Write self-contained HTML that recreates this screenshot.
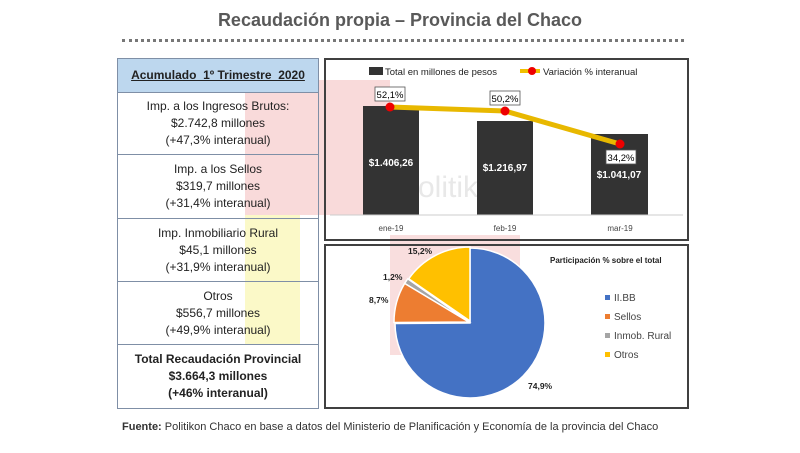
<!DOCTYPE html>
<html><head><meta charset="utf-8"><style>
body{margin:0;width:800px;height:453px;background:#fff;position:relative;overflow:hidden;font-family:"Liberation Sans",sans-serif}
.t{position:absolute;left:0;width:800px;top:10px;text-align:center;font-size:18px;font-weight:bold;color:#595959}
.dots{position:absolute;left:122px;top:39px;width:562px;border-top:3px dotted #777}
.wm{position:absolute}
table{position:absolute;left:117px;top:58px;width:202px;border-collapse:collapse;font-size:12px;color:#222}
td{border:1px solid #7f8fa6;text-align:center;line-height:17px;padding:0;background:transparent}
.box{position:absolute;border:2px solid #404040;box-sizing:border-box}
.foot{position:absolute;left:122px;top:421px;font-size:11px;color:#333}
</style></head><body>
<div class="t">Recaudación propia – Provincia del Chaco</div>
<div class="dots"></div>
<div class="wm" style="left:245px;top:80px;width:145px;height:135px;background:#f9dada"></div>
<div class="wm" style="left:245px;top:215px;width:55px;height:130px;background:#fbf9c8"></div>
<div class="wm" style="left:390px;top:235px;width:130px;height:120px;background:#f9dede"></div>
<table>
<tr style="height:34px"><td style="background:#bdd7ee;font-weight:bold;text-decoration:underline;font-size:12px">Acumulado&nbsp; 1º Trimestre&nbsp; 2020</td></tr>
<tr style="height:62px"><td>Imp. a los Ingresos Brutos:<br>$2.742,8 millones<br>(+47,3% interanual)</td></tr>
<tr style="height:64px"><td>Imp. a los Sellos<br>$319,7 millones<br>(+31,4% interanual)</td></tr>
<tr style="height:63px"><td>Imp. Inmobiliario Rural<br>$45,1 millones<br>(+31,9% interanual)</td></tr>
<tr style="height:63px"><td>Otros<br>$556,7 millones<br>(+49,9% interanual)</td></tr>
<tr style="height:64px"><td style="font-weight:bold">Total Recaudación Provincial<br>$3.664,3 millones<br>(+46% interanual)</td></tr>
</table>
<div class="box" style="left:324px;top:58px;width:365px;height:183px"></div>
<div class="box" style="left:324px;top:244px;width:365px;height:165px"></div>
<svg width="800" height="453" style="position:absolute;left:0;top:0" font-family="Liberation Sans, sans-serif">
<text x="418" y="197" font-size="30" fill="#e8e8e8">olitik</text>
<rect x="369" y="67" width="14" height="8" fill="#333"/>
<text x="385" y="75" font-size="9.5" fill="#222">Total en millones de pesos</text>
<line x1="520" y1="71" x2="540" y2="71" stroke="#f0c000" stroke-width="4"/>
<circle cx="532" cy="71" r="4" fill="#e00"/>
<text x="543" y="75" font-size="9.5" fill="#222">Variación % interanual</text>
<rect x="363" y="106" width="56" height="109" fill="#333"/>
<rect x="477" y="121" width="56" height="94" fill="#333"/>
<rect x="591" y="134" width="57" height="81" fill="#333"/>
<line x1="330" y1="215" x2="683" y2="215" stroke="#ccc"/>
<text x="391" y="166" font-size="10" fill="#fff" font-weight="bold" text-anchor="middle">$1.406,26</text>
<text x="505" y="171" font-size="10" fill="#fff" font-weight="bold" text-anchor="middle">$1.216,97</text>
<text x="619" y="178" font-size="10" fill="#fff" font-weight="bold" text-anchor="middle">$1.041,07</text>
<polyline points="390,107 505,111 620,144" fill="none" stroke="#e8b800" stroke-width="5"/>
<circle cx="390" cy="107" r="4.5" fill="#e00"/><circle cx="505" cy="111" r="4.5" fill="#e00"/><circle cx="620" cy="144" r="4.5" fill="#e00"/>
<rect x="375" y="87" width="30" height="14" fill="#fff" stroke="#555" stroke-width=".8"/><text x="390" y="98" font-size="9.5" text-anchor="middle">52,1%</text>
<rect x="490" y="91" width="30" height="14" fill="#fff" stroke="#555" stroke-width=".8"/><text x="505" y="102" font-size="9.5" text-anchor="middle">50,2%</text>
<rect x="606" y="150" width="30" height="14" fill="#fff" stroke="#555" stroke-width=".8"/><text x="621" y="161" font-size="9.5" text-anchor="middle">34,2%</text>
<text x="391" y="231" font-size="8" fill="#444" text-anchor="middle">ene-19</text>
<text x="505" y="231" font-size="8" fill="#444" text-anchor="middle">feb-19</text>
<text x="620" y="231" font-size="8" fill="#444" text-anchor="middle">mar-19</text>
<g stroke="#fff" stroke-width="1.5">
<path d="M470,323 L470,248 A75 75 0 1 1 395,323.5 Z" fill="#4472c4"/>
<path d="M469,322 L394,322.5 A75 75 0 0 1 404.7,283.4 Z" fill="#ed7d31"/>
<path d="M469,322 L404.7,283.4 A75 75 0 0 1 407.7,278.8 Z" fill="#a5a5a5"/>
<path d="M470,321 L408.7,278.8 A75 75 0 0 1 470,247 Z" fill="#ffc000"/>
</g>
<g font-size="8.5" font-weight="bold" fill="#222">
<text x="408" y="254">15,2%</text><text x="383" y="280">1,2%</text><text x="369" y="303">8,7%</text><text x="528" y="389">74,9%</text>
<text x="550" y="263" font-size="8">Participación % sobre el total</text>
</g>
<g font-size="10" fill="#444">
<rect x="605" y="295" width="5" height="5" fill="#4472c4"/><text x="614" y="301">II.BB</text>
<rect x="605" y="314" width="5" height="5" fill="#ed7d31"/><text x="614" y="320">Sellos</text>
<rect x="605" y="333" width="5" height="5" fill="#a5a5a5"/><text x="614" y="339">Inmob. Rural</text>
<rect x="605" y="352" width="5" height="5" fill="#ffc000"/><text x="614" y="358">Otros</text>
</g>
</svg>
<div class="foot"><b>Fuente:</b> Politikon Chaco en base a datos del Ministerio de Planificación y Economía de la provincia del Chaco</div>
</body></html>
